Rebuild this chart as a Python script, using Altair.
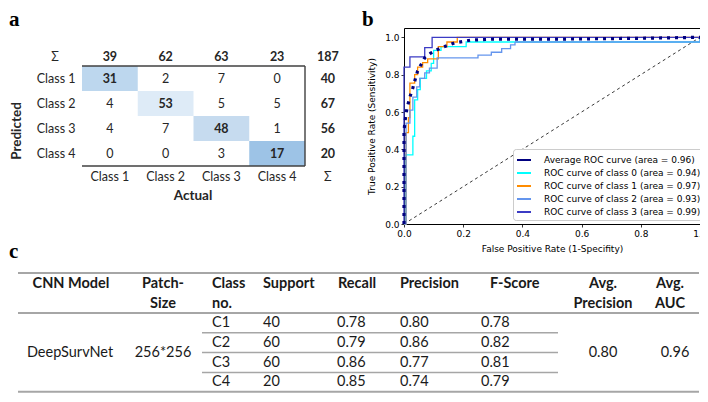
import altair as alt
import pandas as pd

# ------------------------------------------------------------------ data
classes = ["Class 1", "Class 2", "Class 3", "Class 4"]
confusion = [[31, 2, 7, 0],
             [4, 53, 5, 5],
             [4, 7, 48, 1],
             [0, 0, 3, 17]]
actual_totals = [39, 62, 63, 23]
predicted_totals = [40, 67, 56, 20]
grand_total = 187
sigma = "Σ"

roc_names = ["Average ROC curve (area = 0.96)",
             "ROC curve of class 0 (area = 0.94)",
             "ROC curve of class 1 (area = 0.97)",
             "ROC curve of class 2 (area = 0.93)",
             "ROC curve of class 3 (area = 0.99)"]
avg_fpr = [0.0, 0.0, 0.005, 0.01, 0.02, 0.03, 0.046, 0.07, 0.09, 0.12, 0.17, 0.225, 0.3, 0.5, 0.8, 1.0]
avg_tpr = [0.0, 0.5, 0.57, 0.62, 0.68, 0.73, 0.82, 0.89, 0.915, 0.94, 0.97, 0.985, 0.99, 0.99, 0.995, 1.0]
c0_fpr = [0.0, 0.005, 0.005, 0.03, 0.03, 0.036, 0.036, 0.046, 0.046, 0.055, 0.055, 0.076, 0.076,
          0.092, 0.092, 0.10, 0.10, 0.125, 0.125, 0.21, 0.21, 1.0, 1.0]
c0_tpr = [0.0, 0.0, 0.37, 0.37, 0.47, 0.47, 0.665, 0.665, 0.72, 0.72, 0.78, 0.78, 0.82,
          0.82, 0.86, 0.86, 0.93, 0.93, 0.95, 0.95, 0.975, 0.975, 1.0]
c1_fpr = [0.0, 0.007, 0.007, 0.015, 0.015, 0.02, 0.02, 0.036, 0.036, 0.046, 0.046, 0.063, 0.063,
          0.08, 0.08, 0.116, 0.116, 0.145, 0.145, 0.18, 0.18, 1.0]
c1_tpr = [0.0, 0.0, 0.49, 0.49, 0.57, 0.57, 0.755, 0.755, 0.80, 0.80, 0.84, 0.84, 0.865,
          0.865, 0.885, 0.885, 0.95, 0.95, 0.975, 0.975, 1.0, 1.0]
c2_fpr = [0.0, 0.007, 0.007, 0.02, 0.02, 0.03, 0.03, 0.043, 0.043, 0.053, 0.053, 0.07, 0.07,
          0.086, 0.086, 0.112, 0.112, 0.25, 0.25, 0.295, 0.295, 0.33, 0.33, 0.36, 0.36,
          0.375, 0.375, 1.0, 1.0]
c2_tpr = [0.0, 0.0, 0.54, 0.54, 0.61, 0.61, 0.68, 0.68, 0.735, 0.735, 0.78, 0.78, 0.81,
          0.81, 0.835, 0.835, 0.89, 0.89, 0.905, 0.905, 0.92, 0.92, 0.94, 0.94, 0.96,
          0.96, 0.975, 0.975, 1.0]
c3_fpr = [0.0, 0.0, 0.02, 0.02, 0.07, 0.07, 0.095, 0.095, 1.0]
c3_tpr = [0.0, 0.84, 0.84, 0.895, 0.895, 0.945, 0.945, 1.0, 1.0]
chance_fpr = [0.0, 1.0]
chance_tpr = [0.0, 1.0]

table_headers = [["CNN Model"], ["Patch-", "Size"], ["Class", "no."], ["Support"], ["Recall"],
                 ["Precision"], ["F-Score"], ["Avg.", "Precision"], ["Avg.", "AUC"]]
cnn_model = "DeepSurvNet"
patch_size = "256*256"
class_no = ["C1", "C2", "C3", "C4"]
support = [40, 60, 60, 20]
recall = [0.78, 0.79, 0.86, 0.85]
precision = [0.80, 0.86, 0.77, 0.74]
f_score = [0.78, 0.82, 0.81, 0.79]
avg_precision = 0.80
avg_auc = 0.96

panel_letters = ["a", "b", "c"]

# ------------------------------------------------------------------ styles / layout
roc_colors = ["navy", "aqua", "darkorange", "cornflowerblue", "#3b3bc4"]
roc_dashes = [[3, 5], [1, 0], [1, 0], [1, 0], [1, 0]]
diag_colors = ["#bdd7ee", "#deebf7", "#c6dbef", "#9dc3e6"]
SANS = "Lato"
MPL = "DejaVu Sans"

# pixel layout (reference-image coordinates)
T_HEAD_X = [71, 163, 212, 263, 338, 400, 490, 603, 670]
T_HEAD_ALIGN = ["center", "center", "left", "left", "left", "left", "left", "center", "center"]
T_VAL_X = [70, 163, 212, 263, 337, 400, 481, 603, 675]
T_TOP, T_L1, T_L2, T_HB, T_ROW_H = 273, 284, 303.5, 313, 19.8
T_LEFT, T_RIGHT, T_SEP_L, T_SEP_R = 18, 699, 202, 558
PANEL_POS = [(9, 26), (362, 26), (9, 258)]

# ------------------------------------------------------------------ ROC panel
rows = []
for name, fx, ty in zip(roc_names, [avg_fpr, c0_fpr, c1_fpr, c2_fpr, c3_fpr],
                        [avg_tpr, c0_tpr, c1_tpr, c2_tpr, c3_tpr]):
    for i, (a, b) in enumerate(zip(fx, ty)):
        rows.append({"series": name, "fpr": a, "tpr": b, "order": i})
roc_df = pd.DataFrame(rows)
chance_df = pd.DataFrame({"fpr": chance_fpr, "tpr": chance_tpr})

roc_x = alt.Scale(domain=[0, 1], nice=False, zero=False)
roc_y = alt.Scale(domain=[0, 1.05], nice=False, zero=False)
ticks = [0, 0.2, 0.4, 0.6, 0.8, 1.0]
x_axis = alt.Axis(values=ticks, format=".1f", title="False Positive Rate (1-Specifity)",
                  grid=False, domain=False, tickSize=3, labelPadding=2, titlePadding=6, labelFlush=False)
y_axis = alt.Axis(values=ticks, format=".1f", title="True Positive Rate (Sensitivity)",
                  grid=False, domain=False, tickSize=3, labelPadding=2, titlePadding=8, labelFlush=False)

avg_name = roc_names[0]


def roc_legend():
    return alt.Legend(
        title=None, orient="none", legendX=109, legendY=121, direction="vertical",
        fillColor="white", strokeColor="#cccccc", cornerRadius=3, padding=3,
        labelFont=MPL, labelFontSize=9, labelColor="black", labelLimit=400,
        symbolType="stroke", symbolSize=196, symbolStrokeWidth=2, rowPadding=0, labelOffset=12,
    )


def roc_encode(ch):
    return ch.encode(
        x=alt.X("fpr:Q", scale=roc_x, axis=x_axis),
        y=alt.Y("tpr:Q", scale=roc_y, axis=y_axis),
        color=alt.Color("series:N", scale=alt.Scale(domain=roc_names, range=roc_colors), legend=roc_legend()),
        strokeDash=alt.StrokeDash("series:N", scale=alt.Scale(domain=roc_names, range=roc_dashes),
                                  legend=roc_legend()),
        order="order:Q",
    )


chance = alt.Chart(chance_df).mark_line(color="#222222", strokeDash=[3, 3], strokeWidth=0.9).encode(
    x=alt.X("fpr:Q", scale=roc_x, axis=x_axis),
    y=alt.Y("tpr:Q", scale=roc_y, axis=y_axis),
)
class_lines = roc_encode(alt.Chart(roc_df).transform_filter(
    alt.datum.series != avg_name).mark_line(strokeWidth=1.3))
avg_line = roc_encode(alt.Chart(roc_df).transform_filter(
    alt.datum.series == avg_name).mark_line(strokeWidth=3.2, strokeCap="butt"))
roc = alt.layer(chance, class_lines, avg_line)

# ------------------------------------------------------------------ confusion matrix panel
cm_x = alt.Scale(domain=[0, 4], range=[82 - 404, 305 - 404], nice=False, zero=False)
cm_y = alt.Scale(domain=[0, 4], range=[66 - 28, 166 - 28], nice=False, zero=False)

cells = []
for r in range(4):
    for c in range(4):
        cells.append({"value": confusion[r][c], "cx": c, "cx2": c + 1, "cy": r, "cy2": r + 1,
                      "diag": r == c})
cells_df = pd.DataFrame(cells)

cm_rect = alt.Chart(cells_df).transform_filter(alt.datum.diag).mark_rect().encode(
    x=alt.X("cx:Q", scale=cm_x, axis=None), x2="cx2:Q",
    y=alt.Y("cy:Q", scale=cm_y, axis=None), y2="cy2:Q",
    color=alt.Color("value:O", scale=alt.Scale(domain=[confusion[i][i] for i in range(4)],
                                               range=diag_colors), legend=None),
)

frame_df = pd.DataFrame({"x0": [0, 4, 0], "x1": [4, 4, 4], "y0": [0, 0, 4], "y1": [0, 4, 4]})
cm_frame = alt.Chart(frame_df).mark_rule(color="#404040", strokeWidth=1.4).encode(
    x=alt.X("x0:Q", scale=cm_x, axis=None), x2="x1:Q",
    y=alt.Y("y0:Q", scale=cm_y, axis=None), y2="y1:Q",
)

texts = []
for r in range(4):
    for c in range(4):
        texts.append({"text": str(confusion[r][c]), "tx": c + 0.5, "ty": r + 0.5,
                      "bold": r == c, "grp": "cell"})
for r in range(4):
    texts.append({"text": classes[r], "tx": -0.5, "ty": r + 0.5, "bold": False, "grp": "rowlab"})
    texts.append({"text": str(predicted_totals[r]), "tx": 4.5, "ty": r + 0.5, "bold": True, "grp": "right"})
for c in range(4):
    texts.append({"text": str(actual_totals[c]), "tx": c + 0.5, "ty": -0.5, "bold": True, "grp": "top"})
    texts.append({"text": classes[c], "tx": c + 0.5, "ty": 4.5, "bold": False, "grp": "bottom"})
texts.append({"text": sigma, "tx": -0.5, "ty": -0.5, "bold": False, "grp": "topleft"})
texts.append({"text": str(grand_total), "tx": 4.5, "ty": -0.5, "bold": True, "grp": "topright"})
texts.append({"text": sigma, "tx": 4.5, "ty": 4.5, "bold": False, "grp": "bottomright"})
cm_text_df = pd.DataFrame(texts)

offsets = {"cell": (0, 0), "rowlab": (2, 0), "right": (-5, 0), "top": (0, 3.5),
           "topleft": (1, 3.5), "topright": (-5, 3.5), "bottom": (0, -1.5), "bottomright": (-5, -1.5)}
cm_text_layers = []
for grp, (dx, dy) in offsets.items():
    for bold in (False, True):
        sub = cm_text_df[(cm_text_df["grp"] == grp) & (cm_text_df["bold"] == bold)]
        if len(sub) == 0:
            continue
        cm_text_layers.append(
            alt.Chart(sub).mark_text(font=SANS, fontSize=12.5, fontWeight="bold" if bold else "normal",
                                     color="#262626", baseline="middle", align="center", dx=dx, dy=dy
                                     ).encode(
                x=alt.X("tx:Q", scale=cm_x, axis=None),
                y=alt.Y("ty:Q", scale=cm_y, axis=None),
                text="text:N",
            )
        )
cm = alt.layer(cm_rect, cm_frame, *cm_text_layers)

# ------------------------------------------------------------------ table + annotations (pixel layout)
px = alt.Scale(domain=[0, 700], range=[-404, 296], nice=False, zero=False)
py = alt.Scale(domain=[0, 402], range=[-28, 374], nice=False, zero=False)

trows = []
for i, lines in enumerate(table_headers):
    for j, s in enumerate(lines):
        trows.append({"text": s, "x": T_HEAD_X[i], "y": [T_L1, T_L2][j], "al": T_HEAD_ALIGN[i], "bold": True})
mid = T_HB + 2 * T_ROW_H
trows.append({"text": cnn_model, "x": T_VAL_X[0], "y": mid, "al": "center", "bold": False})
trows.append({"text": patch_size, "x": T_VAL_X[1], "y": mid, "al": "center", "bold": False})
trows.append({"text": f"{avg_precision:.2f}", "x": T_VAL_X[7], "y": mid, "al": "center", "bold": False})
trows.append({"text": f"{avg_auc:.2f}", "x": T_VAL_X[8], "y": mid, "al": "center", "bold": False})
for k in range(4):
    yk = T_HB + (k + 0.5) * T_ROW_H
    vals = [class_no[k], str(support[k]), f"{recall[k]:.2f}", f"{precision[k]:.2f}", f"{f_score[k]:.2f}"]
    for j, v in enumerate(vals):
        trows.append({"text": v, "x": T_VAL_X[2 + j], "y": yk, "al": "left", "bold": False})
table_text_df = pd.DataFrame(trows)

table_layers = []
for al in ("left", "center"):
    for bold in (False, True):
        sub = table_text_df[(table_text_df["al"] == al) & (table_text_df["bold"] == bold)]
        if len(sub) == 0:
            continue
        table_layers.append(
            alt.Chart(sub).mark_text(font=SANS, fontSize=14.5, fontWeight="bold" if bold else "normal",
                                     color="#1a1a1a", align=al, baseline="middle").encode(
                x=alt.X("x:Q", scale=px, axis=None),
                y=alt.Y("y:Q", scale=py, axis=None),
                text="text:N",
            )
        )

thick_df = pd.DataFrame({"x0": [T_LEFT] * 3, "x1": [T_RIGHT] * 3,
                         "y": [T_TOP, T_HB, T_HB + 4 * T_ROW_H - 0.5]})
thin_df = pd.DataFrame({"x0": [T_SEP_L] * 3, "x1": [T_SEP_R] * 3,
                        "y": [T_HB + k * T_ROW_H for k in (1, 2, 3)]})
thick_rules = alt.Chart(thick_df).mark_rule(color="#a6a6a6", strokeWidth=2).encode(
    x=alt.X("x0:Q", scale=px, axis=None), x2="x1:Q", y=alt.Y("y:Q", scale=py, axis=None))
thin_rules = alt.Chart(thin_df).mark_rule(color="#a6a6a6", strokeWidth=1.5).encode(
    x=alt.X("x0:Q", scale=px, axis=None), x2="x1:Q", y=alt.Y("y:Q", scale=py, axis=None))

panel_df = pd.DataFrame({"text": panel_letters, "x": [p[0] for p in PANEL_POS], "y": [p[1] for p in PANEL_POS]})
panel_labels = alt.Chart(panel_df).mark_text(font="Liberation Serif", fontSize=21, fontWeight="bold",
                                             color="black", align="left", baseline="alphabetic").encode(
    x=alt.X("x:Q", scale=px, axis=None), y=alt.Y("y:Q", scale=py, axis=None), text="text:N")

actual_lbl = alt.Chart(pd.DataFrame({"text": ["Actual"], "x": [193], "y": [196]})).mark_text(
    font=SANS, fontSize=13.5, fontWeight="bold", color="#262626", baseline="middle").encode(
    x=alt.X("x:Q", scale=px, axis=None), y=alt.Y("y:Q", scale=py, axis=None), text="text:N")
pred_lbl = alt.Chart(pd.DataFrame({"text": ["Predicted"], "x": [17], "y": [131]})).mark_text(
    font=SANS, fontSize=13.5, fontWeight="bold", color="#262626", baseline="middle", angle=270).encode(
    x=alt.X("x:Q", scale=px, axis=None), y=alt.Y("y:Q", scale=py, axis=None), text="text:N")

annot = alt.layer(thick_rules, thin_rules, *table_layers, panel_labels, actual_lbl, pred_lbl)

# ------------------------------------------------------------------ assemble
chart = alt.layer(roc, cm, annot).resolve_scale(
    x="independent", y="independent", color="independent"
).properties(
    width=296, height=196,
    title=alt.Title("Receiver Operating Characteristic (ROC) for 4_Classes"),
    padding={"left": 396, "top": 20, "right": 0, "bottom": 170},
    autosize=alt.AutoSizeParams(type="none"),
).configure_view(
    stroke="black", strokeWidth=1
).configure_axis(
    labelFont=MPL, labelFontSize=9, labelColor="black", titleFont=MPL, titleFontSize=9,
    titleFontWeight="normal", titleColor="black", tickColor="black", tickWidth=0.8
).configure_title(
    font=MPL, fontSize=10, fontWeight="normal", color="black", anchor="middle", frame="group", offset=5
)

chart.save("out.html", embed_options={"renderer": "svg", "actions": False})
